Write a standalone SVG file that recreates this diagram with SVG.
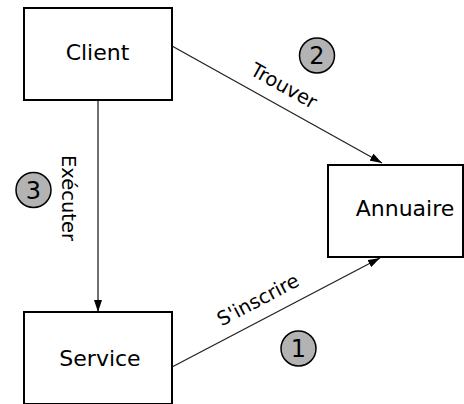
<svg xmlns="http://www.w3.org/2000/svg" width="464" height="404" viewBox="0 0 464 404">
<style>
.box{fill:#fff;stroke:#000;stroke-width:2}
.nt{font-family:"DejaVu Sans",sans-serif;font-size:22px;fill:#000;text-anchor:middle}
.lb{font-family:"DejaVu Sans",sans-serif;font-size:19.5px;fill:#000;text-anchor:middle}
.edge{fill:none;stroke:#222;stroke-width:1.3;marker-end:url(#arr)}
.badge circle{fill:#b3b3b3;stroke:#000;stroke-width:1.5}
.badge text{font-family:"DejaVu Sans",sans-serif;font-size:24px;fill:#000;text-anchor:middle}
</style>
<defs>
<marker id="arr" markerUnits="userSpaceOnUse" markerWidth="12" markerHeight="8" refX="12" refY="4" orient="auto">
<path d="M0,0 L12,4 L0,8 z" fill="#000"/>
</marker>
</defs>
<rect width="464" height="404" fill="#fff"/>
<g id="connectors">
<line class="edge" x1="98" y1="100" x2="98" y2="312"/>
<line class="edge" x1="172" y1="46" x2="382" y2="163"/>
<line class="edge" x1="172" y1="367" x2="380" y2="258"/>
<text class="lb" transform="translate(62,198) rotate(90)">Exécuter</text>
<text class="lb" transform="translate(277,104.5) rotate(29.1) translate(-3,-13)">Trouver</text>
<text class="lb" transform="translate(276,312.5) rotate(-27.66) translate(-10,-13)">S'inscrire</text>
</g>
<g id="client">
<rect class="box" x="24" y="8" width="148" height="92"/>
<text class="nt" x="97.5" y="60">Client</text>
</g>
<g id="service">
<rect class="box" x="24" y="312" width="148" height="92"/>
<text class="nt" x="100" y="365.5">Service</text>
</g>
<g id="annuaire">
<rect class="box" x="328" y="165" width="135" height="92"/>
<text class="nt" x="405" y="215.5">Annuaire</text>
</g>
<g id="badge1" class="badge">
<circle cx="298.5" cy="348.5" r="17.5"/>
<text x="298.5" y="357">1</text>
</g>
<g id="badge2" class="badge">
<circle cx="317" cy="55.5" r="17.5"/>
<text x="317" y="64">2</text>
</g>
<g id="badge3" class="badge">
<circle cx="33.5" cy="190" r="17.5"/>
<text x="33.5" y="198.5">3</text>
</g>
</svg>
